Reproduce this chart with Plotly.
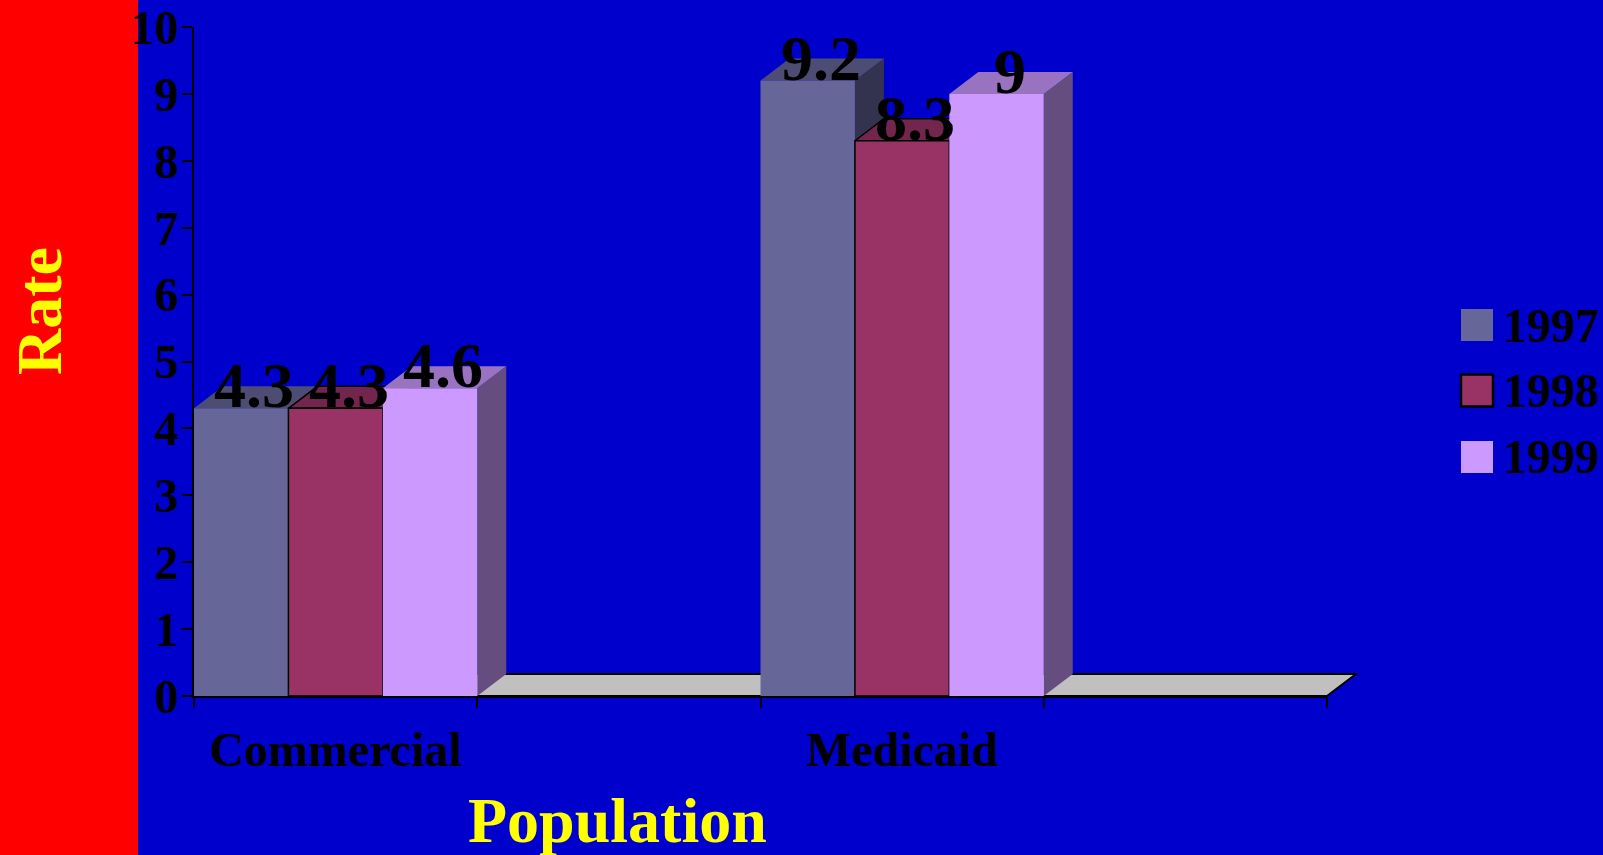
import plotly.graph_objects as go

# ---------------- data ----------------
categories = ["Commercial", "Medicaid"]
years = ["1997", "1998", "1999"]
rate_1997 = [4.3, 9.2]
rate_1998 = [4.3, 8.3]
rate_1999 = [4.6, 9.0]
y_ticks = [0, 1, 2, 3, 4, 5, 6, 7, 8, 9, 10]

series_values = [rate_1997, rate_1998, rate_1999]

# ---------------- styles ----------------
front_colors = ["#666699", "#993366", "#CC99FF"]
top_colors = ["#4D4D73", "#73264D", "#9973BF"]
side_colors = ["#333350", "#4D1A33", "#664D80"]
outline = [None, "black", None]

BG = "#0000CC"
FONT = "Liberation Serif"

W, H = 1603, 855
PL, PR, PT, PB = 194, 1327, 27, 696       # plot area in pixels
XMIN, XMAX = -0.5, 3.5
YMIN, YMAX = 0, 10
DEPTH_X, DEPTH_Y = 29, 22                 # 3D depth in pixels

px_per_x = (PR - PL) / (XMAX - XMIN)
px_per_y = (PB - PT) / (YMAX - YMIN)
dxd = DEPTH_X / px_per_x
dyd = DEPTH_Y / px_per_y

cat_pos = [2 * i for i in range(len(categories))]
bar_w = 1.0 / len(years)


def paper_x(px):
    return (px - PL) / (PR - PL)


def paper_y(py):
    return (PB - py) / (PB - PT)


fig = go.Figure()
shapes = []
annotations = []

# floor (domain refs so it is not clipped)
fdx = DEPTH_X / (PR - PL)
fdy = DEPTH_Y / (PB - PT)
shapes.append(dict(
    type="path", xref="x domain", yref="y domain", layer="below",
    path=f"M 0,0 L {fdx},{fdy} L {1 + fdx},{fdy} L 1,0 Z",
    fillcolor="#C0C0C0", line=dict(color="black", width=2)))

# red band on the left
shapes.append(dict(
    type="rect", xref="paper", yref="paper", layer="below",
    x0=paper_x(0), x1=paper_x(138), y0=paper_y(H), y1=paper_y(0),
    fillcolor="#FF0000", line=dict(width=0)))

# bars: fronts as traces, 3D top/side as shapes from the same values
for j, (yr, vals) in enumerate(zip(years, series_values)):
    off = -0.5 + j * bar_w
    fig.add_trace(go.Bar(
        x=cat_pos, y=vals, name=yr, offset=off, width=bar_w,
        marker=dict(color=front_colors[j],
                    line=dict(color=outline[j] or front_colors[j],
                              width=1.5 if outline[j] else 0)),
        hoverinfo="skip", showlegend=False))

for i, cx in enumerate(cat_pos):
    for j, vals in enumerate(series_values):
        h = vals[i]
        x0 = cx - 0.5 + j * bar_w
        x1 = x0 + bar_w
        ln = dict(color=outline[j], width=1.5) if outline[j] else dict(width=0)
        shapes.append(dict(
            type="path", xref="x", yref="y", layer="below",
            path=f"M {x1},0 L {x1 + dxd},{dyd} L {x1 + dxd},{h + dyd} L {x1},{h} Z",
            fillcolor=side_colors[j], line=ln))
        shapes.append(dict(
            type="path", xref="x", yref="y", layer="below",
            path=f"M {x0},{h} L {x0 + dxd},{h + dyd} L {x1 + dxd},{h + dyd} L {x1},{h} Z",
            fillcolor=top_colors[j], line=ln))

# value labels
for i, cx in enumerate(cat_pos):
    for j, vals in enumerate(series_values):
        h = vals[i]
        xc = cx - 0.5 + (j + 0.5) * bar_w + dxd * 0.45
        annotations.append(dict(
            x=xc, y=h, xref="x", yref="y", text=f"{h:g}", showarrow=False,
            xanchor="center", yanchor="bottom", yshift=-15,
            font=dict(family=FONT, size=64, color="black", weight="bold")))

# legend (manual)
leg_centers = [325, 390.5, 457]
for j, yr in enumerate(years):
    cy = leg_centers[j]
    shapes.append(dict(
        type="rect", xref="paper", yref="paper", layer="above",
        x0=paper_x(1461), x1=paper_x(1493), y0=paper_y(cy + 16), y1=paper_y(cy - 16),
        fillcolor=front_colors[j],
        line=dict(color="black", width=2.5) if outline[j] else dict(width=0)))
    annotations.append(dict(
        x=paper_x(1501), y=paper_y(cy), xref="paper", yref="paper", text=yr,
        showarrow=False, xanchor="left", yanchor="middle",
        font=dict(family=FONT, size=48, color="black", weight="bold")))

# axis titles
annotations.append(dict(
    x=paper_x(39.5), y=paper_y(311.5), xref="paper", yref="paper", text="Rate",
    textangle=-90, showarrow=False, xanchor="center", yanchor="middle",
    font=dict(family=FONT, size=64, color="#FFFF00", weight="bold")))
annotations.append(dict(
    x=paper_x(617.5), y=paper_y(820.5), xref="paper", yref="paper", text="Population",
    showarrow=False, xanchor="center", yanchor="middle",
    font=dict(family=FONT, size=64, color="#FFFF00", weight="bold")))

fig.update_layout(
    width=W, height=H,
    margin=dict(l=PL, r=W - PR, t=PT, b=H - PB, pad=0, autoexpand=False),
    paper_bgcolor=BG, plot_bgcolor="rgba(0,0,0,0)",
    barmode="overlay", showlegend=False,
    font=dict(family=FONT, color="black", weight="bold"),
    shapes=shapes, annotations=annotations,
    xaxis=dict(
        range=[XMIN, XMAX], tickmode="array", tickvals=cat_pos, ticktext=categories,
        ticks="", showline=True, linecolor="black", linewidth=2,
        showgrid=False, zeroline=False, fixedrange=True, automargin=False,
        tickfont=dict(family=FONT, size=48, color="black", weight="bold"),
        ticklabelstandoff=10,
        minor=dict(tickmode="array",
                   tickvals=[XMIN + k for k in range(5)],
                   ticks="outside", ticklen=10, tickwidth=2, tickcolor="black",
                   showgrid=False)),
    yaxis=dict(
        range=[YMIN, YMAX], tickmode="array", tickvals=y_ticks,
        ticks="outside", ticklen=10, tickwidth=2, tickcolor="black",
        showline=True, linecolor="black", linewidth=2,
        showgrid=False, zeroline=False, fixedrange=True, automargin=False,
        tickfont=dict(family=FONT, size=48, color="black", weight="bold"),
        ticklabelstandoff=-6),
)

fig.write_html("out.html", config={"displayModeBar": False},
               post_script="document.body.style.margin='0';document.body.style.overflow='hidden';")
